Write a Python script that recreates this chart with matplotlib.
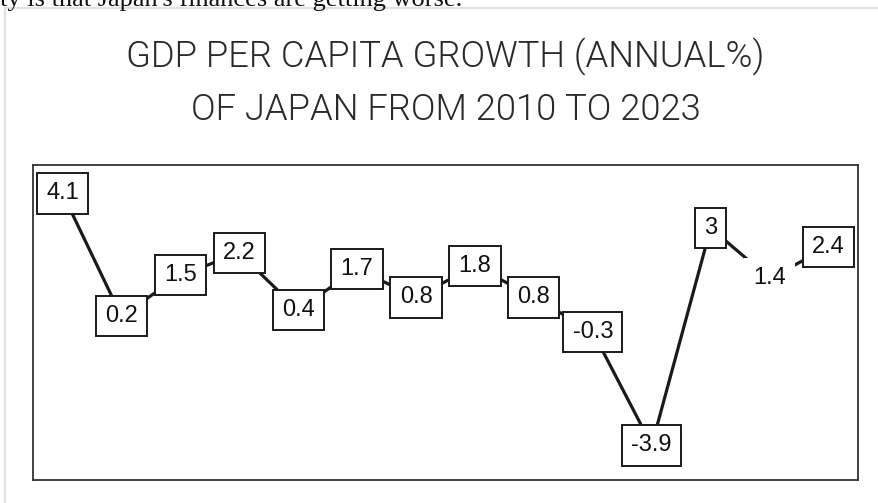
import matplotlib
matplotlib.use("Agg")
import matplotlib.pyplot as plt
from matplotlib import font_manager as fm
from matplotlib.lines import Line2D

years = list(range(2010, 2024))
growth = [4.1, 0.2, 1.5, 2.2, 0.4, 1.7, 0.8, 1.8, 0.8, -0.3, -3.9, 3, 1.4, 2.4]
labels = ["4.1", "0.2", "1.5", "2.2", "0.4", "1.7", "0.8", "1.8", "0.8", "-0.3", "-3.9", "3", "1.4", "2.4"]
title_lines = ["GDP PER CAPITA GROWTH (ANNUAL%)", "OF JAPAN FROM 2010 TO 2023"]
header_text = "ty is that Japan's finances are getting worse."

W, H = 879, 503

# pick a thin face for the title if one is installed
title_font = ("Noto Sans CJK SC", "normal")
for fam in ["Noto Sans CJK SC", "Roboto", "Lato", "Open Sans", "Inter"]:
    thin = [f for f in fm.fontManager.ttflist
            if f.name == fam and isinstance(f.weight, int) and 250 <= f.weight <= 350]
    if thin:
        title_font = (fam, thin[0].weight)
        break

fig = plt.figure(figsize=(W / 100, H / 100), dpi=100)

# page fragments around the chart
fig.text(0, 1 - 6 / H, header_text, family="Liberation Serif", fontsize=19,
         ha="left", va="baseline", color="#111111")
fig.add_artist(Line2D([5 / W, 5 / W], [0, 1 - 8 / H], color="#e2e2e2", lw=1.6))
fig.add_artist(Line2D([5 / W, 1], [1 - 8 / H, 1 - 8 / H], color="#e2e2e2", lw=1.6))

# title, sized so the first line spans about 640 px
renderer = fig.canvas.get_renderer()
probe = fig.text(0, 0, title_lines[0], family=title_font[0], weight=title_font[1], fontsize=24)
scale = 640 / probe.get_window_extent(renderer).width
probe.remove()
title_size = min(24 * scale, 27)
for txt, base in zip(title_lines, [67, 120]):
    fig.text(445.5 / W, 1 - base / H, txt, family=title_font[0], weight=title_font[1],
             fontsize=title_size, ha="center", va="baseline", color="#2a2a2a")

ax = fig.add_axes([33 / W, 23 / H, 825 / W, 315 / H])
x = list(range(len(years)))
ax.plot(x, growth, color="#1a1a1a", lw=2.3, solid_capstyle="butt", zorder=1)

for xi, yi, lab in zip(x, growth, labels):
    edge = "none" if lab == "1.4" else "#1a1a1a"
    ax.text(xi, yi, lab, ha="center", va="center", fontsize=17,
            family="Liberation Sans", color="#111111", zorder=3,
            bbox=dict(boxstyle="square,pad=0.39", fc="white", ec=edge, lw=1.4))

ax.set_xlim(-0.5, len(years) - 0.5)
ax.set_ylim(-5, 5)
ax.set_xticks([])
ax.set_yticks([])
for s in ax.spines.values():
    s.set_color("#333333")
    s.set_linewidth(1.3)

fig.savefig("out.png", dpi=100)
